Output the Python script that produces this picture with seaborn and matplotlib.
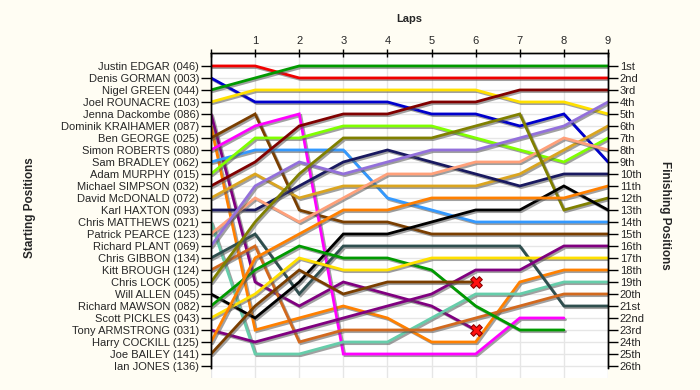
import pandas as pd
import seaborn as sns
import matplotlib
matplotlib.use("Agg")
import matplotlib.pyplot as plt
import matplotlib.patheffects as pe

# lap numbers (0 = grid)
laps = list(range(10))

drivers = [
    "Justin EDGAR (046)", "Denis GORMAN (003)", "Nigel GREEN (044)", "Joel ROUNACRE (103)",
    "Jenna Dackombe (086)", "Dominik KRAIHAMER (087)", "Ben GEORGE (025)", "Simon ROBERTS (080)",
    "Sam BRADLEY (062)", "Adam MURPHY (015)", "Michael SIMPSON (032)", "David McDONALD (072)",
    "Karl HAXTON (093)", "Chris MATTHEWS (021)", "Patrick PEARCE (123)", "Richard PLANT (069)",
    "Chris GIBBON (134)", "Kitt BROUGH (124)", "Chris LOCK (005)", "Will ALLEN (045)",
    "Richard MAWSON (082)", "Scott PICKLES (043)", "Tony ARMSTRONG (031)", "Harry COCKILL (125)",
    "Joe BAILEY (141)", "Ian JONES (136)",
]

finish_labels = [
    "1st", "2nd", "3rd", "4th", "5th", "6th", "7th", "8th", "9th", "10th", "11th", "12th", "13th",
    "14th", "15th", "16th", "17th", "18th", "19th", "20th", "21st", "22nd", "23rd", "24th", "25th", "26th",
]

# position at each lap, None = no longer running
edgar = [1, 1, 2, 2, 2, 2, 2, 2, 2, 2]
gorman = [2, 4, 4, 4, 4, 5, 5, 6, 5, 9]
green = [3, 2, 1, 1, 1, 1, 1, 1, 1, 1]
rounacre = [4, 3, 3, 3, 3, 3, 3, 4, 4, 5]
dackombe = [5, 19, 21, 19, 20, 21, 23, None, None, None]
kraihamer = [6, 23, 22, 21, 22, 24, 24, 19, 18, 18]
george = [7, 5, 13, 14, 14, 15, 15, 15, 15, 15]
roberts = [8, 6, 5, 25, 25, 25, 25, 22, 22, None]
bradley = [9, 8, 8, 8, 12, 13, 14, 14, 14, 14]
murphy = [10, 7, 7, 6, 6, 6, 7, 8, 9, 7]
simpson = [11, 9, 6, 5, 5, 4, 4, 3, 3, 3]
mcdonald = [12, 10, 12, 11, 11, 11, 11, 10, 8, 6]
haxton = [13, 13, 11, 9, 8, 9, 10, 11, 10, 10]
matthews = [14, 25, 25, 24, 24, 22, 20, 20, 19, 19]
pearce = [15, 12, 14, 12, 10, 10, 9, 9, 7, 8]
plant = [16, 11, 9, 10, 9, 8, 8, 7, 6, 4]
gibbon = [17, 15, 20, 16, 16, 16, 16, 16, 21, 21]
brough = [18, 16, 24, 23, 23, 23, 22, 21, 20, 20]
lock = [19, 14, 10, 7, 7, 7, 6, 5, 13, 12]
allen = [20, 22, 19, 15, 15, 14, 13, 13, 11, 13]
mawson = [21, 18, 16, 17, 17, 18, 21, 23, 23, None]
pickles = [22, 20, 17, 18, 18, 17, 17, 17, 17, 17]
armstrong = [23, 24, 23, 22, 21, 20, 18, 18, 16, 16]
cockill = [24, 17, 15, 13, 13, 12, 12, 12, 12, 11]
bailey = [25, 21, 18, 20, 19, 19, 19, None, None, None]

series = [edgar, gorman, green, rounacre, dackombe, kraihamer, george, roberts, bradley,
          murphy, simpson, mcdonald, haxton, matthews, pearce, plant, gibbon, brough, lock,
          allen, mawson, pickles, armstrong, cockill, bailey]

colors = ["#f00000", "#0000cc", "#009a00", "#ffe000", "#800080", "#ff8000", "#7a3e00",
          "#ff00ff", "#3399ff", "#80ff00", "#800000", "#daa520", "#191960", "#66cdaa",
          "#ffa07a", "#9370db", "#2f4f4f", "#d2691e", "#808000", "#000000", "#009a00",
          "#ffe000", "#800080", "#ff8000", "#7a3e00"]

# retirements
dnf_laps = [6, 6]
dnf_pos = [19, 23]

rows = []
for name, pos in zip(drivers, series):
    for lap, p in zip(laps, pos):
        if p is not None:
            rows.append({"driver": name, "lap": lap, "pos": p})
df = pd.DataFrame(rows)

sns.set_style("white")
plt.rcParams["font.family"] = ["Liberation Sans", "DejaVu Sans"]

fig = plt.figure(figsize=(7, 3.9), dpi=100, facecolor="#fffdf3")
ax = fig.add_axes([211 / 700, 1 - 378 / 390, 397 / 700, 325 / 390])
ax.set_facecolor("white")

ax.set_xticks(laps)
ax.set_yticks(range(1, 27))
ax.grid(True, color="#e6e6e6", linewidth=1)
ax.set_axisbelow(True)

palette = dict(zip(drivers[:len(series)], colors))
sns.lineplot(data=df, x="lap", y="pos", hue="driver", hue_order=drivers[:len(series)],
             palette=palette, estimator=None, sort=True, legend=False, linewidth=2,
             ax=ax)
for line in ax.lines:
    line.set_path_effects([pe.SimpleLineShadow(offset=(1.2, -1.2), shadow_color="#555555", alpha=0.55),
                           pe.Normal()])
    line.set_solid_joinstyle("miter")

ax.scatter(dnf_laps, dnf_pos, marker="X", s=70, color="#ff1010", edgecolor="#900000",
           linewidth=0.8, zorder=5)

ax.set_xlim(0, 9)
ax.set_ylim(27.0, -0.08)

ax.xaxis.tick_top()
ax.set_xticklabels([""] + [str(i) for i in laps[1:]], fontsize=8)
ax.tick_params(axis="x", direction="inout", length=6, width=1, color="black", pad=2)
ax.set_yticklabels(drivers, fontsize=8)
ax.tick_params(axis="y", direction="out", length=7, width=1, color="black", pad=1.5)
ax.set_xlabel("")
ax.set_ylabel("")

ax2 = ax.twinx()
ax2.set_ylim(ax.get_ylim())
ax2.set_yticks(range(1, 27))
ax2.set_yticklabels(finish_labels, fontsize=8)
ax2.tick_params(axis="y", direction="out", length=7, width=1, color="black", pad=1.5)

for a in (ax, ax2):
    a.spines["bottom"].set_visible(False)
    for s in ("top", "left", "right"):
        a.spines[s].set_color("black")
        a.spines[s].set_linewidth(1)
    a.spines["left"].set_bounds(-0.08, 26.2)
    a.spines["right"].set_bounds(-0.08, 26.2)

fig.text(409 / 700, 1 - 19 / 390, "Laps", ha="center", va="center", fontsize=8, weight="bold")
fig.text(30 / 700, 1 - 208 / 390, "Starting Positions", ha="center", va="center",
         rotation=90, fontsize=8.5, weight="bold")
fig.text(665 / 700, 1 - 215 / 390, "Finishing Positions", ha="center", va="center",
         rotation=270, fontsize=8.5, weight="bold")

fig.savefig("out.png", dpi=100, facecolor=fig.get_facecolor())
